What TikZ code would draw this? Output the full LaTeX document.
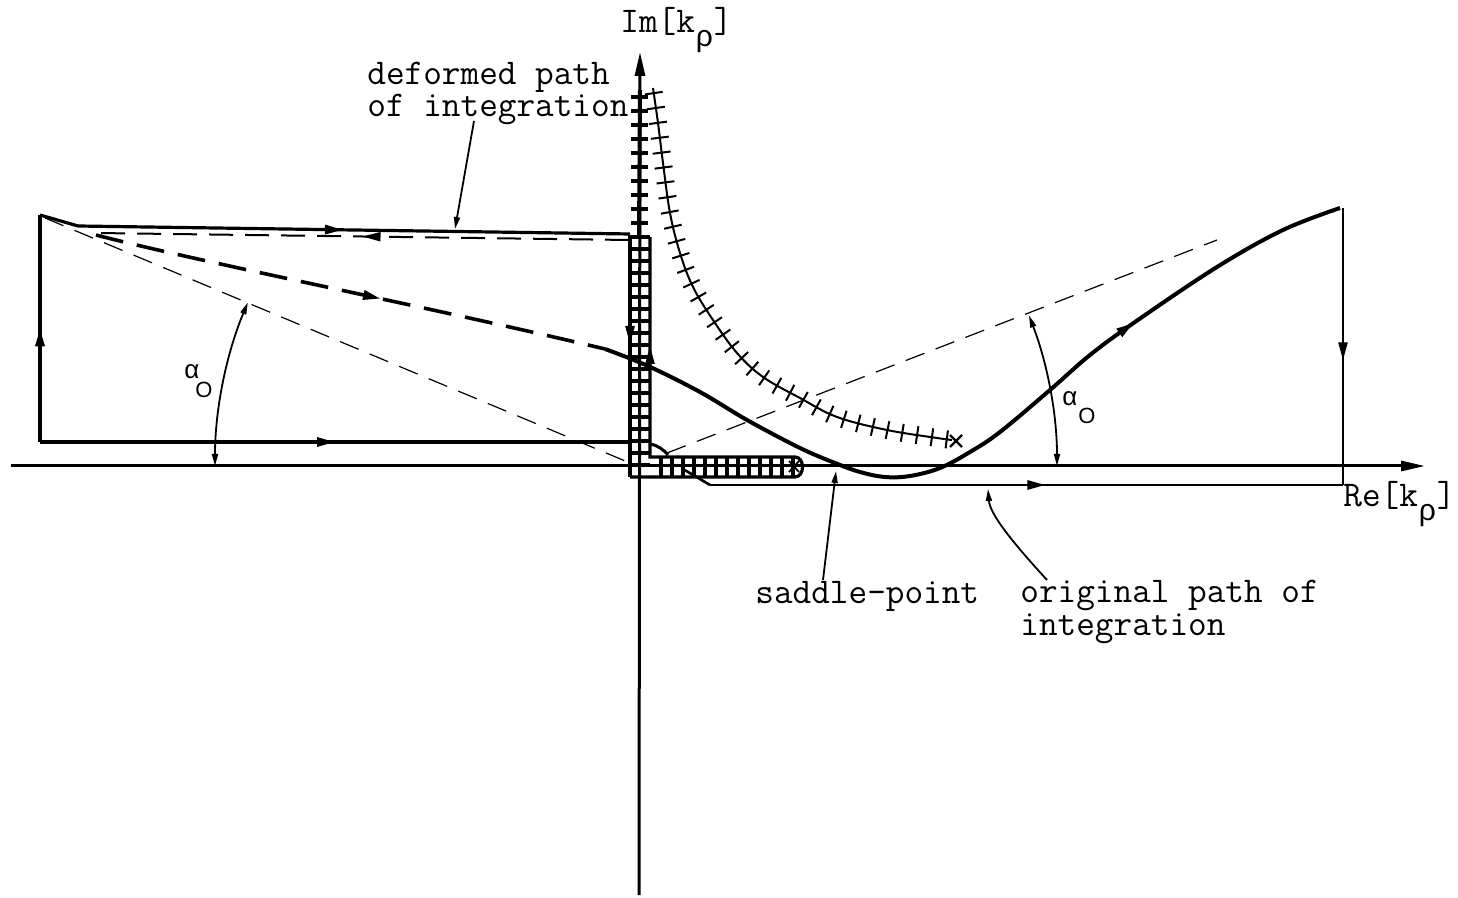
\documentclass[tikz,border=0pt]{standalone}
\usepackage{fontspec}
\newfontfamily\grkfont{Liberation Sans}
\usetikzlibrary{arrows.meta,decorations.markings}
\begin{document}
\begin{tikzpicture}[x=0.5pt,y=-0.5pt,
  flowtip/.tip={Triangle[length=9pt,width=4.5pt]},
  smalltip/.tip={Triangle[length=6pt,width=3pt]},
  axis/.style={line width=1.5pt},
  pathline/.style={line width=1.6pt},
  thinpath/.style={line width=1.1pt},
  guide/.style={line width=0.6pt,dash pattern=on 10pt off 6pt},
  midarrow/.style={postaction={decorate,decoration={markings,mark=at position #1 with {\arrow{flowtip}}}}},
  rung/.style={line width=1.6pt},
  ticks/.style={postaction={decorate,decoration={markings,mark=between positions 0.01 and 0.99 step 7.5pt with {\draw[line width=1pt] (0,-4.5pt)--(0,4.5pt);}}}},
  lbl/.style={inner sep=0pt,anchor=base west,font=\ttfamily\fontsize{18.1pt}{19pt}\selectfont\addfontfeatures{FakeBold=1.5}},
  leader/.style={line width=0.9pt,-smalltip},
  alab/.style={inner sep=0pt,font=\grkfont\fontsize{13pt}{13pt}\selectfont},
  olab/.style={inner sep=0pt,font=\grkfont\fontsize{11pt}{11pt}\selectfont},
]
\fill[white] (0,0) rectangle (1458,898);
\useasboundingbox (0,0) rectangle (1458,898);

% axes
\coordinate (reS) at (11,466); \coordinate (reE) at (1425,466);
\coordinate (imS) at (639,895); \coordinate (imE) at (640,52);
\draw[axis,-{Triangle[length=12pt,width=5pt]}] (reS) -- (reE);
\draw[axis,-{Triangle[length=12pt,width=5pt]}] (imS) -- (imE);
\draw[line width=2pt] (639,237) -- (640,90);

% ticks on the cut above the strip
\foreach \yy in {97,111,...,230} \draw[line width=1.6pt] (631,\yy) -- (648,\yy);

% ladder strip (branch cut)
\foreach \yy in {249,261,...,465} \draw[rung] (630,\yy) -- (650,\yy);
\foreach \xx in {661,672,...,793} \draw[rung] (\xx,457) -- (\xx,477);
\draw[rung] (650,237) -- (650,457) -- (795,457) .. controls (805,457) and (805,477) .. (795,477) -- (630,477);
\draw[pathline] (630,477) -- (630,237) -- (650,237);
\draw[line width=0.9pt] (789,461) -- (799,472) (789,472) -- (799,461);
\draw[-flowtip,line width=1.2pt] (630,318) -- (630,344);
\draw[-flowtip,line width=1.2pt] (650,372) -- (650,346);

% left rectangle (deformed path)
\coordinate (bl) at (40,442); \coordinate (tl) at (40,215);
\coordinate (kink) at (78,226); \coordinate (tr) at (630,234);
\coordinate (br) at (630,442);
\draw[pathline,midarrow=0.5] (bl) -- (br);
\draw[pathline,midarrow=0.5] (bl) -- (tl);
\draw[pathline] (tl) -- (kink);
\draw[pathline,midarrow=0.48] (kink) -- (tr);

% dashed paths
\draw[line width=1pt,dash pattern=on 12pt off 6pt,midarrow=0.5] (629,240) -- (96,233);
\draw[line width=1.8pt,dash pattern=on 14pt off 7pt,midarrow=0.56] (96,235) .. controls (200,262) and (420,305) .. (605,349);

% steepest-descent path
\draw[line width=2pt,midarrow=0.72] plot[smooth,tension=0.6] coordinates {(605,349) (648,366) (700,392) (747,420) (800,448) (835,463) (860,472) (885,477) (910,476) (940,468) (970,452) (1000,432) (1050,390) (1090,355) (1135,322) (1217,267) (1283,230) (1340,208)};

% right closure and original path
\coordinate (rt) at (1343,208); \coordinate (rb) at (1343,485);
\coordinate (ob1) at (710,485); \coordinate (ob0) at (683,469);
\draw[thinpath,midarrow=0.55] (rt) -- (rb);
\draw[line width=1.3pt,midarrow=0.53] (ob1) -- (rb);
\draw[line width=1.3pt] (ob0) -- (ob1);

% thin guide lines
\draw[guide] (45,218) -- (630,463);
\draw[guide] (667,453) -- (1217,240);
\draw[line width=1.5pt] (651,444) .. controls (658,446) and (663,449) .. (668,455);

% angle arcs
\draw[line width=0.9pt,smalltip-smalltip] (215,466) arc[start angle=180,end angle=202.7,radius=424];
\draw[line width=0.9pt,smalltip-smalltip] (1057,466) arc[start angle=0,end angle=-21.1,radius=418];
\node[alab] (a1) at (192,372) {α};
\node[olab] (o1) at (204,390) {O};
\node[alab] (a2) at (1070,399) {α};
\node[olab] (o2) at (1087,416) {O};

% hatched curve (branch cut of other sheet)
\draw[line width=1pt,ticks] plot[smooth,tension=0.6] coordinates {(653,88) (658,123) (663,163) (670,213) (680,253) (693,287) (713,320) (737,353) (763,377) (800,398) (837,417) (887,430) (937,438) (952,440)};
\draw[line width=1.1pt] (950,435) -- (962,447) (950,447) -- (962,435);

% labels
\node[lbl] (imlab) at (620,33) {Im[k\makebox[0.525em]{\raisebox{-7pt}{\grkfont\fontsize{15pt}{15pt}\selectfont ρ}}]};
\node[lbl] (relab) at (1343,507) {Re[k\makebox[0.525em]{\raisebox{-7pt}{\grkfont\fontsize{15pt}{15pt}\selectfont ρ}}]};
\node[lbl] (def) at (367,85) {\vtop{\baselineskip=16pt\hbox{deformed path}\hbox{of integration}}};
\node[lbl] (sad) at (755,604) {saddle-point};
\node[lbl] (orig) at (1020,603) {\vtop{\baselineskip=16.5pt\hbox{original path of}\hbox{integration}}};

% leaders
\coordinate (defA) at (474,121); \coordinate (defB) at (455,229);
\coordinate (sadA) at (823,580); \coordinate (sadB) at (836,471);
\coordinate (orgA) at (1047,580); \coordinate (orgB) at (988,489);
\draw[leader] (defA) -- (defB);
\draw[leader] (sadA) -- (sadB);
\draw[leader] (orgA) .. controls (1015,545) and (990,515) .. (orgB);
\end{tikzpicture}
\end{document}
